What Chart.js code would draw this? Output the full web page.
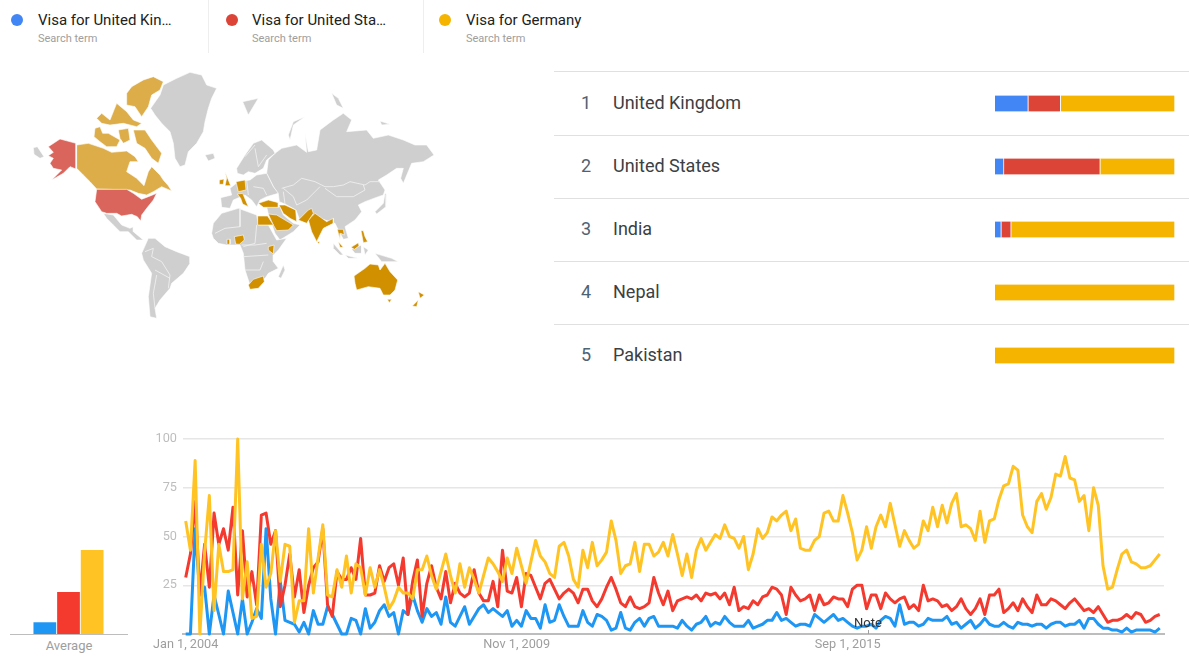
<!DOCTYPE html>
<html>
<head>
<title>Visa search terms</title>
<meta charset="UTF-8">
<script src="https://cdn.jsdelivr.net/npm/chart.js@4"></script>
<style>
  html, body { margin: 0; padding: 0; background: #fff; }
  body { width: 1189px; height: 670px; position: relative; overflow: hidden; font-family: Roboto, sans-serif; }
  .abs { position: absolute; white-space: nowrap; }
  canvas { position: absolute; }
  .dot { width: 12px; height: 12px; border-radius: 50%; top: 14px; }
  .term { top: 11px; font-size: 15px; line-height: 18px; color: #212121; }
  .sub { top: 32px; font-size: 11px; line-height: 13px; color: #9e9e9e; }
  .sep { top: 0; width: 1px; height: 53px; background: #eee; }
  .hr { left: 554px; right: 0; height: 1px; background: #e0e0e0; }
  .rank { left: 581px; font-size: 18px; line-height: 24px; color: #4f6272; }
  .name { left: 613px; font-size: 18px; line-height: 24px; color: #3c4043; }
</style>
</head>
<body>
<div id="head"></div>
<div id="table"></div>

<canvas id="map-chart" style="left:0;top:60px" width="450" height="270"></canvas>
<canvas id="rank-chart" style="left:995px;top:72px" width="180" height="315"></canvas>
<canvas id="avg-chart" style="left:10px;top:539px" width="118" height="95"></canvas>
<canvas id="line-chart" style="left:140px;top:425px" width="1040" height="235"></canvas>

<div class="abs" style="left:10px;top:634px;width:118px;height:1px;background:#bdbdbd"></div>
<div class="abs" style="left:10px;width:118px;top:638px;text-align:center;font-size:13px;line-height:15px;color:#9e9e9e">Average</div>
<div class="abs" style="left:848px;width:40px;top:615px;text-align:center;font-size:13px;line-height:15px;color:#333">Note</div>
<div class="abs" style="left:868px;top:630px;width:1px;height:4px;background:#9e9e9e"></div>

<script>
const terms = ['Visa for United Kin…', 'Visa for United Sta…', 'Visa for Germany'];
const termColors = ['#4285f4', '#db4437', '#f4b400'];
const lineColors = ['#1e96f3', '#f4392f', '#ffc324'];

const regions = ['United Kingdom', 'United States', 'India', 'Nepal', 'Pakistan'];
const ruleTops = [71, 135, 198, 261, 324];
const regionBlue = [18.5, 5, 3.5, null, null];
const regionRed = [18, 53.5, 5.5, null, null];
const regionYellow = [63.5, 41.5, 91, 100, 100];

const averages = [6, 21.5, 43];

// monthly, from Jan 2004
const tickIndex = [0, 70, 140];
const tickLabels = ['Jan 1, 2004', 'Nov 1, 2009', 'Sep 1, 2015'];
const yellowLine = [58,43,89,0,42,71,12,46,32,32,
  33,100,18,37,8,9,46,24,31,53,
  27,46,45,6,17,17,54,21,39,56,
  20,19,33,24,40,21,36,34,20,34,
  24,33,24,13,17,24,21,21,18,33,
  33,40,30,23,32,41,30,21,36,24,
  34,28,21,30,39,36,32,27,39,31,
  44,35,26,37,48,40,37,31,29,45,
  47,40,28,24,43,34,47,35,38,42,
  58,48,31,35,36,47,32,46,46,40,
  42,47,40,51,41,30,41,29,43,49,
  43,47,51,49,56,50,49,44,50,33,
  41,54,49,52,60,58,61,63,53,59,
  44,43,43,48,50,62,63,58,58,71,
  62,52,38,43,55,44,55,61,55,67,
  56,45,53,48,44,46,58,53,65,55,
  66,57,67,72,55,56,54,48,63,47,
  58,59,69,76,77,86,84,61,55,52,
  68,72,64,70,82,81,91,80,79,68,
  71,53,75,66,35,23,24,33,41,43,
  37,36,34,34,35,38,41];
const redLine = [29,41,68,20,46,24,62,46,54,43,
  65,20,53,19,32,15,61,62,46,53,
  14,25,41,19,33,11,25,34,37,54,
  15,9,32,28,28,34,28,49,20,20,
  21,35,27,34,36,25,39,10,27,38,
  9,26,35,24,18,32,16,26,21,19,
  21,33,21,17,17,27,14,43,22,21,
  29,14,31,30,24,18,26,28,23,18,
  21,23,21,16,23,23,17,14,18,24,
  29,23,16,14,19,14,13,14,16,29,
  21,15,22,12,17,18,19,18,20,17,
  21,20,21,18,21,15,24,12,14,13,
  17,15,19,20,24,23,20,10,24,20,
  17,18,20,12,20,15,16,19,18,18,
  14,23,25,25,13,20,20,13,21,18,
  16,18,19,13,15,12,25,17,18,17,
  14,15,12,14,18,13,10,13,18,10,
  20,20,23,11,13,16,12,18,14,11,
  20,15,15,18,17,15,13,16,18,15,
  12,13,11,14,10,6,7,7,8,10,
  8,11,10,6,7,9,10];
const blueLine = [0,0,54,20,24,0,20,10,0,22,
  11,0,18,0,6,13,8,54,18,0,
  27,7,6,5,1,6,0,12,5,5,
  14,10,5,0,0,8,7,0,13,3,
  6,12,15,9,11,0,12,10,20,12,
  6,13,9,11,5,19,6,4,9,14,
  5,9,13,15,11,13,11,9,12,4,
  7,4,12,8,8,3,15,6,7,15,
  9,4,4,4,12,6,4,10,9,7,
  2,3,11,3,2,6,8,4,8,9,
  4,4,4,4,3,7,4,2,5,6,
  9,4,6,5,9,6,4,4,4,7,
  3,4,5,7,7,11,7,8,6,4,
  5,5,4,10,8,6,8,10,7,8,
  6,4,3,4,4,5,3,7,9,8,
  4,15,5,6,6,4,5,8,7,7,
  7,9,5,6,3,5,7,3,5,8,
  5,4,4,6,4,3,6,5,5,4,
  5,5,3,5,6,6,4,5,5,7,
  3,8,8,5,3,3,2,2,1,3,
  1,2,2,2,2,1,3];

// map outlines, rough (map units 1350 x 810)
const mapGrey = [
  [[452,145],[480,105],[490,75],[530,55],[570,37],[605,45],[620,75],[650,85],[635,115],[625,145],[615,185],[610,215],[590,250],[565,275],[555,315],[540,320],[525,295],[520,250],[510,215],[485,190],[465,165]],
  [[100,263],[112,260],[132,290],[120,295],[102,283]],
  [[615,285],[640,280],[645,295],[625,303]],
  [[310,460],[340,465],[365,495],[390,505],[400,500],[400,515],[430,540],[410,540],[385,515],[360,515],[340,495],[320,475]],
  [[445,535],[465,535],[495,560],[530,575],[570,590],[570,610],[550,640],[515,670],[510,685],[480,720],[465,745],[470,775],[450,770],[445,710],[455,640],[430,600],[425,580]],
  [[635,520],[640,490],[665,460],[715,445],[770,465],[775,495],[805,495],[830,540],[860,535],[835,570],[820,585],[820,605],[835,625],[805,640],[795,655],[775,670],[750,675],[735,630],[730,580],[720,555],[680,555],[655,550],[640,535]],
  [[835,650],[850,615],[855,630],[843,655]],
  [[710,325],[735,285],[760,250],[785,240],[820,270],[825,280],[800,300],[790,325],[765,340],[745,335],[730,345],[712,340]],
  [[662,413],[695,405],[690,385],[715,365],[750,360],[770,345],[800,340],[820,380],[835,400],[800,410],[780,420],[770,440],[755,420],[735,405],[700,420],[690,445],[665,442]],
  [[800,340],[805,300],[825,280],[845,265],[890,255],[920,277],[915,220],[925,275],[950,270],[960,210],[1000,180],[1030,160],[1055,180],[1040,215],[1100,210],[1120,235],[1165,225],[1210,240],[1245,255],[1280,255],[1302,285],[1270,305],[1235,310],[1210,370],[1202,355],[1210,325],[1190,325],[1160,345],[1135,360],[1155,390],[1150,405],[1135,410],[1095,425],[1075,435],[1085,455],[1065,480],[1035,500],[1045,535],[1030,538],[1015,510],[1005,490],[960,475],[930,472],[900,482],[888,450],[855,432],[838,425],[835,402],[820,380]],
  [[800,440],[840,440],[850,465],[880,490],[900,495],[880,515],[840,540],[825,520],[805,462]],
  [[1000,550],[1030,585],[1020,585],[1000,565]],
  [[1035,585],[1075,595],[1045,595]],
  [[1055,568],[1085,555],[1085,580],[1065,580]],
  [[1090,560],[1105,570],[1095,585]],
  [[1125,580],[1175,595],[1195,605],[1145,605]],
  [[728,125],[775,115],[745,165]],
  [[865,225],[880,185],[915,170],[880,195],[870,240]],
  [[995,100],[1015,115],[1030,145],[1010,135]],
  [[1140,183],[1170,193],[1145,195]],
  [[1125,455],[1150,430],[1155,400],[1160,405],[1158,440],[1130,462]]
];
const mapBorders = [
  [[435,575],[460,565],[455,590],[485,605],[510,645],[505,685]],
  [[465,630],[510,655]],
  [[470,645],[460,700],[465,745]],
  [[720,445],[720,500],[675,505],[645,520]],
  [[770,495],[765,550],[730,560]],
  [[725,555],[765,555],[800,550]],
  [[730,590],[805,585]],
  [[735,630],[780,630],[790,605]],
  [[735,290],[765,255]],
  [[765,265],[775,320],[800,285]],
  [[845,385],[880,375],[905,355],[945,365],[975,380],[1000,380],[1030,375],[1050,365],[1095,375],[1110,365],[1140,365]],
  [[975,385],[1010,410],[1060,410],[1095,390],[1090,375]],
  [[890,435],[920,420],[960,380]],
  [[850,385],[880,410],[890,435]],
  [[850,395],[855,432]],
  [[760,380],[790,385],[800,405]],
  [[740,360],[745,405]]
];
const mapLight = [
  [[395,80],[430,60],[460,50],[490,65],[480,90],[455,105],[445,140],[425,170],[405,140],[380,135],[380,100]],
  [[290,175],[305,160],[330,180],[350,130],[380,155],[400,180],[425,190],[410,200],[370,190],[330,195],[305,190]],
  [[285,205],[300,200],[308,220],[325,220],[360,240],[350,260],[320,260],[300,245],[282,230]],
  [[400,210],[435,210],[455,240],[485,280],[475,310],[455,295],[435,265],[410,250]],
  [[355,210],[385,205],[390,240],[370,250],[360,235]],
  [[230,255],[265,250],[310,265],[335,277],[380,273],[405,290],[415,305],[390,305],[380,335],[410,355],[432,377],[445,335],[455,320],[480,345],[490,360],[505,377],[515,393],[485,380],[460,395],[440,405],[415,400],[390,390],[290,387],[270,365],[250,345],[230,325]]
];
const mapRed = [
  [[145,260],[180,237],[228,250],[228,327],[210,320],[190,340],[155,360],[185,330],[160,325],[150,310],[160,295],[145,287],[160,277]],
  [[290,388],[380,388],[400,400],[425,418],[445,410],[470,400],[460,420],[440,445],[425,465],[422,483],[412,470],[395,463],[365,468],[350,460],[320,460],[305,455],[285,425]]
];
const mapDark = [
  [[773,468],[803,468],[820,495],[773,495]],
  [[703,530],[730,525],[733,540],[718,553],[707,552]],
  [[681,538],[690,538],[690,553],[681,553]],
  [[805,560],[822,555],[820,582],[805,570]],
  [[745,675],[760,658],[790,648],[793,665],[775,685],[750,688]],
  [[675,335],[692,377],[675,377],[680,355]],
  [[658,360],[672,357],[670,373],[658,373]],
  [[708,365],[735,360],[738,390],[715,395]],
  [[712,402],[728,400],[745,440],[728,432],[722,415]],
  [[775,430],[805,420],[835,428],[835,442],[790,442]],
  [[837,435],[855,435],[887,450],[890,485],[870,475],[850,460]],
  [[805,462],[830,465],[880,495],[865,510],[830,512],[820,495]],
  [[895,480],[925,450],[935,445],[940,460],[920,490]],
  [[925,480],[945,460],[980,485],[1000,475],[1000,490],[970,505],[950,545],[935,515]],
  [[952,545],[960,545],[956,552]],
  [[1012,508],[1030,508],[1033,525],[1022,520],[1020,540]],
  [[1015,545],[1030,562],[1020,562]],
  [[1053,562],[1075,548],[1077,558],[1063,568]],
  [[1083,512],[1090,512],[1095,530],[1103,545],[1090,548]],
  [[1062,648],[1095,625],[1110,612],[1135,615],[1140,630],[1155,610],[1170,635],[1193,660],[1185,690],[1170,705],[1150,705],[1140,685],[1105,680],[1070,690],[1065,670]],
  [[1162,718],[1175,718],[1168,728]],
  [[1255,695],[1273,705],[1260,715]],
  [[1237,738],[1255,720],[1250,740]]
];

// header and table text
const head = document.getElementById('head');
const termX = [38, 252, 466];
const dotX = [11, 226, 439];
let h = '';
terms.forEach((t, i) => {
  h += `<div class="abs dot" style="left:${dotX[i]}px;background:${termColors[i]}"></div>`;
  h += `<div class="abs term" style="left:${termX[i]}px">${t}</div>`;
  h += `<div class="abs sub" style="left:${termX[i]}px">Search term</div>`;
});
h += '<div class="abs sep" style="left:208px"></div><div class="abs sep" style="left:423px"></div>';
head.innerHTML = h;

const table = document.getElementById('table');
let tb = '';
regions.forEach((r, i) => {
  const y = ruleTops[i];
  tb += `<div class="abs hr" style="top:${y}px"></div>`;
  tb += `<div class="abs rank" style="top:${y + 20 - (i ? 1 : 0)}px">${i + 1}</div>`;
  tb += `<div class="abs name" style="top:${y + 20 - (i ? 1 : 0)}px">${r}</div>`;
});
table.innerHTML = tb;

Chart.defaults.font.family = 'Roboto, sans-serif';
Chart.defaults.animation = false;
Chart.defaults.responsive = false;
Chart.defaults.plugins.legend.display = false;
Chart.defaults.plugins.tooltip.enabled = false;

// map
function shape(points, color) {
  const closed = points.concat([points[0]]);
  return {
    data: closed.map(p => ({x: p[0], y: p[1]})),
    showLine: true,
    fill: 'shape',
    backgroundColor: color,
    borderColor: '#fff',
    borderWidth: 0.6,
    pointRadius: 0,
    tension: 0
  };
}
function border(points) {
  return {
    data: points.map(p => ({x: p[0], y: p[1]})),
    showLine: true,
    fill: false,
    borderColor: '#f2f2f2',
    borderWidth: 0.8,
    pointRadius: 0,
    tension: 0
  };
}
new Chart(document.getElementById('map-chart'), {
  type: 'scatter',
  data: {
    datasets: [].concat(
      mapDark.map(p => shape(p, '#d19000')),
      mapRed.map(p => shape(p, '#d9655c')),
      mapLight.map(p => shape(p, '#dcad48')),
      mapBorders.map(border),
      mapGrey.map(p => shape(p, '#cfcfcf'))
    )
  },
  options: {
    scales: {
      x: {type: 'linear', min: 0, max: 1350, display: false},
      y: {type: 'linear', min: 0, max: 810, reverse: true, display: false}
    }
  }
});

// region bars
function rankSet(values, color) {
  return {data: values, backgroundColor: color, borderColor: '#fff', borderWidth: {right: 1}, borderSkipped: false, barThickness: 16};
}
new Chart(document.getElementById('rank-chart'), {
  type: 'bar',
  data: {
    labels: regions,
    datasets: [rankSet(regionBlue, termColors[0]), rankSet(regionRed, termColors[1]), rankSet(regionYellow, termColors[2])]
  },
  options: {
    indexAxis: 'y',
    scales: {
      x: {stacked: true, min: 0, max: 100, display: false},
      y: {stacked: true, display: false}
    }
  }
});

// average bars
new Chart(document.getElementById('avg-chart'), {
  type: 'bar',
  data: {
    labels: terms,
    datasets: [{data: averages, backgroundColor: lineColors, categoryPercentage: 1, barPercentage: 0.96}]
  },
  options: {
    layout: {padding: {left: 23, right: 24}},
    scales: {
      x: {display: false},
      y: {min: 0, max: 48.6, display: false}
    }
  }
});

// interest over time
function series(values, color, order) {
  return {
    data: values.map((v, i) => ({x: i, y: v})),
    borderColor: color,
    borderWidth: 3,
    pointRadius: 0,
    tension: 0,
    borderJoinStyle: 'round',
    order: order,
    clip: 4
  };
}
new Chart(document.getElementById('line-chart'), {
  type: 'line',
  data: {
    datasets: [series(blueLine, lineColors[0], 3), series(redLine, lineColors[1], 2), series(yellowLine, lineColors[2], 1)]
  },
  options: {
    layout: {padding: {top: 14, right: 16}},
    scales: {
      x: {
        type: 'linear',
        min: -0.57,
        max: 206.9,
        afterFit: s => { s.height = 26; },
        afterBuildTicks: s => { s.ticks = tickIndex.map(v => ({value: v})); },
        grid: {display: false, drawTicks: false},
        border: {color: '#bdbdbd', width: 2},
        ticks: {
          maxRotation: 0,
          autoSkip: false,
          padding: 3,
          color: '#9e9e9e',
          font: {size: 12.7},
          callback: v => tickLabels[tickIndex.indexOf(v)]
        }
      },
      y: {
        min: 0,
        max: 100,
        afterFit: s => { s.width = 43; },
        grid: {color: '#e6e6e6', lineWidth: 1.5, drawTicks: false},
        border: {display: false},
        ticks: {
          stepSize: 25,
          padding: 6,
          color: '#bdbdbd',
          font: {size: 12.7},
          callback: v => v === 0 ? '' : v
        }
      }
    }
  }
});
</script>
</body>
</html>
